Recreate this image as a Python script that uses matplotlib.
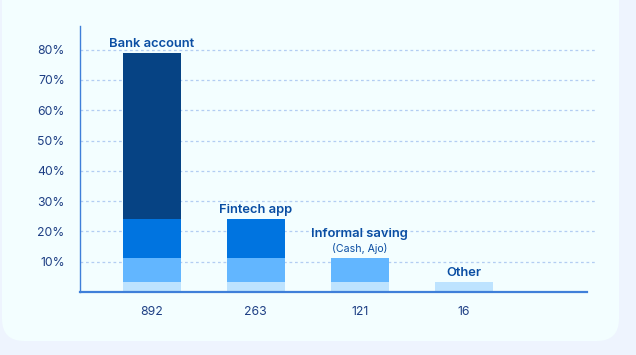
import matplotlib.pyplot as plt
from matplotlib.patches import FancyBboxPatch

# --- Data ---
categories = ['Bank account', 'Fintech app', 'Informal saving', 'Other']
shares = [79.0, 24.2, 11.2, 3.3]   # percent of respondents
counts = ['892', '263', '121', '16']
y_ticks = [10, 20, 30, 40, 50, 60, 70, 80]

# --- Style ---
BG_OUTER = '#eef4fe'
BG_CARD = '#f3feff'
LABEL = '#0a4ea3'
TICK = '#1e3f84'
GRID = '#b3cdf2'
SPINE = '#3f7fd9'
layer_colors = ['#064384', '#0074e0', '#62b6ff', '#bde3ff']

plt.rcParams['font.family'] = ['Inter', 'DejaVu Sans']

fig = plt.figure(figsize=(6.36, 3.55), dpi=100, facecolor=BG_OUTER)

# card behind the chart
card = FancyBboxPatch((2 / 636, 14 / 355), 617 / 636, 400 / 355,
                      boxstyle='round,pad=0,rounding_size=0.035',
                      transform=fig.transFigure, facecolor=BG_CARD,
                      edgecolor='none', mutation_aspect=636 / 355, zorder=0)
fig.patches.append(card)

# axes box: x 80..595 px, y 26..292 px
ax = fig.add_axes([80 / 636, (355 - 292) / 355, 515 / 636, 266 / 355])
ax.set_facecolor('none')
ax.set_zorder(5)

x = list(range(len(categories)))
ax.set_xlim(-0.69, 4.26)
ax.set_ylim(0, 87.8)

# every bar shows its own share plus the smaller shares layered in front
for i in range(len(categories)):
    for j in range(i, len(categories)):
        ax.bar(x[i], shares[j], width=0.555, color=layer_colors[j],
               zorder=2 + j)

# category labels above bars
for i, name in enumerate(categories):
    top = shares[i]
    if name == 'Informal saving':
        ax.annotate(name, (x[i], top), xytext=(0, 18), textcoords='offset pixels',
                    ha='center', va='bottom', fontsize=9.3, fontweight='semibold',
                    color=LABEL)
        ax.annotate('(Cash, Ajo)', (x[i], top), xytext=(0, 4), textcoords='offset pixels',
                    ha='center', va='bottom', fontsize=7.6, color=LABEL)
    else:
        ax.annotate(name, (x[i], top), xytext=(0, 3), textcoords='offset pixels',
                    ha='center', va='bottom', fontsize=9.3, fontweight='semibold',
                    color=LABEL)

ax.set_yticks(y_ticks)
ax.set_yticklabels([f'{t}%' for t in y_ticks])
ax.set_xticks(x)
ax.set_xticklabels(counts)
ax.tick_params(axis='both', length=0, labelsize=8.8, labelcolor=TICK)
ax.tick_params(axis='y', pad=11)
ax.tick_params(axis='x', pad=10)

ax.yaxis.grid(True, linestyle=(0, (2.2, 2.2)), color=GRID, linewidth=0.9)
ax.set_axisbelow(True)

for s in ['top', 'right', 'bottom']:
    ax.spines[s].set_visible(False)
ax.spines['left'].set_color(SPINE)
ax.spines['left'].set_linewidth(1.0)
ax.axhline(0, xmin=0, xmax=0.984, color=SPINE, linewidth=1.6, zorder=10,
           clip_on=False)

fig.savefig('out.png', dpi=100, facecolor=BG_OUTER)
